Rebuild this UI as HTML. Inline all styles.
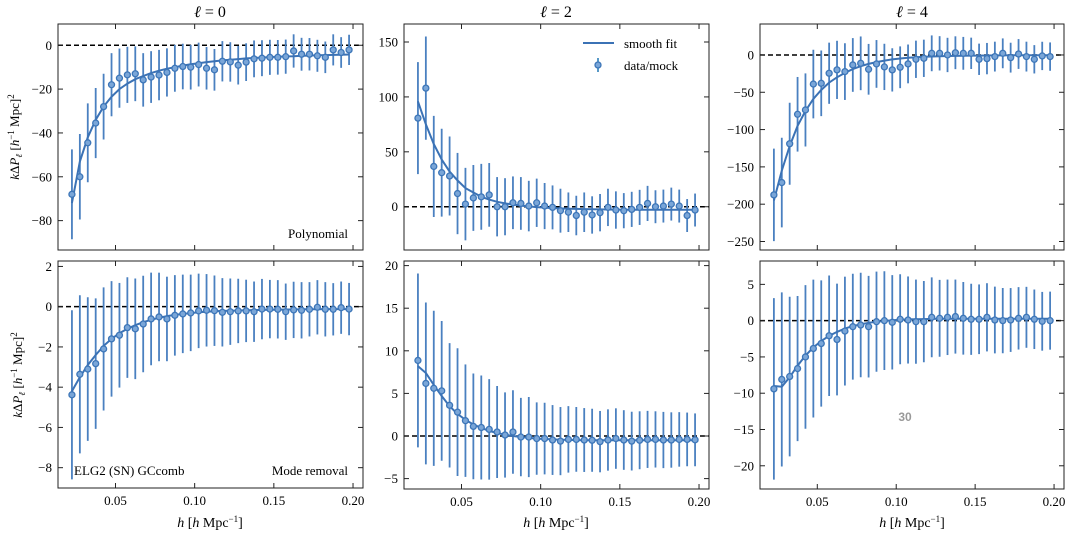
<!DOCTYPE html>
<html><head><meta charset="utf-8">
<style>
html,body{margin:0;padding:0;background:#fff;}
svg{display:block;font-family:"Liberation Serif","DejaVu Serif",serif;}
</style></head>
<body>
<svg id="chart" width="1071" height="535" viewBox="0 0 1071 535" xmlns="http://www.w3.org/2000/svg">
  <text x="210" y="17" font-size="16" text-anchor="middle"><tspan font-style="italic">ℓ</tspan> = 0</text>
  <text x="556" y="17" font-size="16" text-anchor="middle"><tspan font-style="italic">ℓ</tspan> = 2</text>
  <text x="912" y="17" font-size="16" text-anchor="middle"><tspan font-style="italic">ℓ</tspan> = 4</text>
  <text transform="translate(19,137) rotate(-90)" font-size="13" text-anchor="middle"><tspan font-style="italic">k</tspan>Δ<tspan font-style="italic">P</tspan><tspan font-size="9" dy="3" font-style="italic">ℓ</tspan><tspan dy="-3"> [</tspan><tspan font-style="italic">h</tspan><tspan font-size="9" dy="-5">−1</tspan><tspan dy="5"> Mpc]</tspan><tspan font-size="9" dy="-5">2</tspan></text>
  <text transform="translate(22,375) rotate(-90)" font-size="13" text-anchor="middle"><tspan font-style="italic">k</tspan>Δ<tspan font-style="italic">P</tspan><tspan font-size="9" dy="3" font-style="italic">ℓ</tspan><tspan dy="-3"> [</tspan><tspan font-style="italic">h</tspan><tspan font-size="9" dy="-5">−1</tspan><tspan dy="5"> Mpc]</tspan><tspan font-size="9" dy="-5">2</tspan></text>
  <g id="panels"></g>
  <text x="210" y="527" font-size="14" text-anchor="middle"><tspan font-style="italic">h</tspan> [<tspan font-style="italic">h</tspan> Mpc<tspan font-size="9" dy="-5">−1</tspan><tspan dy="5">]</tspan></text>
  <text x="556" y="527" font-size="14" text-anchor="middle"><tspan font-style="italic">h</tspan> [<tspan font-style="italic">h</tspan> Mpc<tspan font-size="9" dy="-5">−1</tspan><tspan dy="5">]</tspan></text>
  <text x="912" y="527" font-size="14" text-anchor="middle"><tspan font-style="italic">h</tspan> [<tspan font-style="italic">h</tspan> Mpc<tspan font-size="9" dy="-5">−1</tspan><tspan dy="5">]</tspan></text>
  <text x="348" y="238" font-size="13" text-anchor="end">Polynomial</text>
  <text x="74" y="475" font-size="13">ELG2 (SN) GCcomb</text>
  <text x="348" y="475" font-size="13" text-anchor="end">Mode removal</text>
  <text x="905" y="421" font-size="12" font-weight="bold" fill="#999" text-anchor="middle" font-family="Liberation Sans, sans-serif">30</text>
  <g>
    <line x1="583" y1="43" x2="614" y2="43" stroke="#3b72b5" stroke-width="2"/>
    <text x="624" y="48" font-size="13">smooth fit</text>
    <line x1="598" y1="58" x2="598" y2="72" stroke="#1f77b4" stroke-width="1.5"/>
    <circle cx="598" cy="65" r="3" fill="#7aa6d8" stroke="#3d76b8" stroke-width="1.3"/>
    <text x="624" y="70" font-size="13">data/mock</text>
  </g>
</svg>
<script>
const kValues = Array.from({length:36},(_,i)=>0.0225+0.005*i);
const xTicks = [0.05,0.10,0.15,0.20];
const xTickLabels = ["0.05","0.10","0.15","0.20"];

const dataL0Poly = [-68,-60,-44.5,-35.5,-28,-18,-15,-13.5,-13,-15.8,-14.5,-13.6,-12.4,-10.5,-9.7,-10,-8.8,-10.5,-11.2,-7.3,-7.6,-9.1,-7.7,-6.2,-5.9,-5.5,-5.5,-5.2,-2.6,-4.1,-4.1,-4.8,-5.5,-2.1,-3.3,-2.1];
const errL0Poly = [20.5,19.5,18,16,15,14.4,13.5,12.8,12.5,12.2,11.8,11.5,11,10.7,10.4,10.2,10,9.7,9.5,9.2,9,8.8,8.6,8.4,8.2,8,7.9,7.8,7.6,7.5,7.4,7.3,7.2,7.1,7,6.9];
const fitL0Poly = [-72,-53,-42,-34,-28,-23.5,-20,-17.5,-15.5,-14,-12.7,-11.6,-10.7,-10,-9.3,-8.7,-8.2,-7.7,-7.3,-6.9,-6.6,-6.3,-6,-5.8,-5.6,-5.4,-5.2,-5.1,-5,-4.8,-4.7,-4.6,-4.5,-4.4,-4.3,-4.2];

const dataL2Poly = [80.7,108,36.7,31,28,12,2.4,8,9,10.8,0,0,3.6,3,0.6,3.6,0.6,-0.6,-3.6,-5,-8,-5,-7.5,-5.4,-0.6,-3,-3.6,-2.4,-0.6,3,0,0.6,2.4,0.6,-8,-3];
const errL2Poly = [51,47,46,40,36,37,33,30,30,29,27,26,24,24,23,22,21,20,20,18,18,18,17,17,17,17,16,16,16,16,15,15,15,15,15,15];
const fitL2Poly = [96,75,57,43,32,24,17,13,9,6.5,4.5,3,2,1,0.3,-0.3,-0.8,-1.2,-1.5,-1.8,-2,-2.2,-2.3,-2.4,-2.5,-2.6,-2.6,-2.7,-2.7,-2.8,-2.8,-2.8,-2.8,-2.8,-2.8,-2.8];

const dataL4Poly = [-187.5,-171,-119,-79.5,-73.7,-39,-38,-24.5,-20,-22.3,-13.4,-11.2,-19.2,-12,-16,-20,-16.5,-12,-5.8,-4.5,2.2,2.2,0,3,2.2,2.2,-5.8,-4.9,-2.2,2.2,-3.6,1.3,-2.2,-5.8,-1.3,-2.2];
const errL4Poly = [62,60,55,50,49,46,44,41,39,38,36,36,34,32,31,29,28,26,25,25,24,23,23,22,22,21,21,21,20,20,20,20,20,19,19,19];
const fitL4Poly = [-195,-155,-122,-95,-75,-59,-47,-37,-30,-24,-19,-15,-12,-9.5,-7.5,-6,-4.8,-3.8,-3,-2.4,-2,-1.7,-1.4,-1.2,-1,-0.9,-0.8,-0.7,-0.6,-0.6,-0.5,-0.5,-0.5,-0.5,-0.5,-0.5];

const dataL0Mode = [-4.38,-3.36,-3.1,-2.83,-2.1,-1.6,-1.42,-1.04,-1.1,-0.86,-0.61,-0.51,-0.61,-0.43,-0.36,-0.31,-0.21,-0.18,-0.2,-0.28,-0.25,-0.21,-0.21,-0.25,-0.12,-0.12,-0.13,-0.25,-0.16,-0.18,-0.13,-0.03,-0.13,-0.13,-0.05,-0.12];
const errL0Mode = [4.2,3.93,3.57,3.24,3.06,2.87,2.6,2.5,2.5,2.4,2.3,2.2,2.1,2.0,1.95,1.9,1.85,1.8,1.75,1.7,1.65,1.6,1.55,1.5,1.5,1.45,1.45,1.4,1.4,1.4,1.35,1.35,1.35,1.3,1.3,1.3];
const fitL0Mode = [-4.2,-3.5,-2.9,-2.4,-1.95,-1.6,-1.32,-1.1,-0.92,-0.77,-0.65,-0.55,-0.47,-0.41,-0.36,-0.32,-0.28,-0.25,-0.23,-0.21,-0.2,-0.19,-0.18,-0.17,-0.16,-0.15,-0.15,-0.14,-0.14,-0.13,-0.13,-0.13,-0.12,-0.12,-0.12,-0.12];

const dataL2Mode = [8.87,6.17,5.6,5.3,3.6,2.8,1.8,1.13,1,0.78,0.47,0.12,0.47,-0.12,-0.12,-0.3,-0.3,-0.47,-0.6,-0.4,-0.4,-0.47,-0.5,-0.66,-0.47,-0.3,-0.47,-0.6,-0.5,-0.4,-0.4,-0.47,-0.47,-0.4,-0.4,-0.45];
const errL2Mode = [10.2,9.5,9.1,8.2,7.3,7.5,6.6,6.2,6.1,5.9,5.4,5.0,4.9,4.6,4.7,4.25,4.2,4.1,4.0,3.9,3.8,3.75,3.7,3.6,3.6,3.55,3.5,3.45,3.4,3.35,3.3,3.3,3.25,3.2,3.15,3.1];
const fitL2Mode = [8.2,7.4,6.0,4.7,3.5,2.6,1.9,1.35,0.95,0.6,0.35,0.15,0,-0.12,-0.22,-0.3,-0.35,-0.4,-0.43,-0.46,-0.48,-0.5,-0.5,-0.5,-0.5,-0.5,-0.5,-0.5,-0.5,-0.5,-0.5,-0.5,-0.5,-0.5,-0.5,-0.5];

const dataL4Mode = [-9.4,-8.1,-7.7,-6.6,-5,-3.84,-3.15,-2.08,-2.6,-1.44,-0.83,-0.6,-0.83,-0.14,0,-0.23,0.19,0.09,-0.14,-0.14,0.46,0.32,0.46,0.56,0.32,0.19,0.19,0.46,0.09,0,0.09,0.32,0.46,0.19,-0.09,0];
const errL4Mode = [12.5,12,11,10,9.9,9.5,8.7,8.3,7.7,7.5,7.3,7.2,7,6.9,6.8,6.5,6.2,6,5.8,5.6,5.5,5.3,5.2,5.1,5,4.9,4.8,4.7,4.6,4.5,4.4,4.3,4.2,4.1,4.05,4];
const fitL4Mode = [-9,-9.1,-7.8,-6.2,-4.8,-3.7,-2.8,-2.1,-1.55,-1.1,-0.75,-0.5,-0.3,-0.15,-0.05,0.05,0.12,0.17,0.2,0.22,0.24,0.25,0.25,0.25,0.25,0.25,0.25,0.25,0.25,0.25,0.25,0.25,0.25,0.25,0.25,0.25];

const yTicksL0Poly = [0,-20,-40,-60,-80];
const yTicksL2Poly = [0,50,100,150];
const yTicksL4Poly = [0,-50,-100,-150,-200,-250];
const yTicksL0Mode = [2,0,-2,-4,-6,-8];
const yTicksL2Mode = [-5,0,5,10,15,20];
const yTicksL4Mode = [5,0,-5,-10,-15,-20];

const NS = "http://www.w3.org/2000/svg";
const XMIN = 0.0137, XMAX = 0.2063;
const panels = [
  {name:"l0-polynomial", x0:58, x1:363, y0:24, y1:250, ymin:-93.4, ymax:9.7, d:dataL0Poly, e:errL0Poly, f:fitL0Poly, t:yTicksL0Poly, xl:false},
  {name:"l2-polynomial", x0:404, x1:709, y0:24, y1:250, ymin:-39.4, ymax:166.4, d:dataL2Poly, e:errL2Poly, f:fitL2Poly, t:yTicksL2Poly, xl:false},
  {name:"l4-polynomial", x0:760, x1:1064, y0:24, y1:250, ymin:-261.4, ymax:41.5, d:dataL4Poly, e:errL4Poly, f:fitL4Poly, t:yTicksL4Poly, xl:false},
  {name:"l0-mode-removal", x0:58, x1:363, y0:261, y1:488, ymin:-9.01, ymax:2.27, d:dataL0Mode, e:errL0Mode, f:fitL0Mode, t:yTicksL0Mode, xl:true},
  {name:"l2-mode-removal", x0:404, x1:709, y0:261, y1:489, ymin:-6.22, ymax:20.54, d:dataL2Mode, e:errL2Mode, f:fitL2Mode, t:yTicksL2Mode, xl:true},
  {name:"l4-mode-removal", x0:760, x1:1064, y0:261, y1:489, ymin:-23.2, ymax:8.22, d:dataL4Mode, e:errL4Mode, f:fitL4Mode, t:yTicksL4Mode, xl:true}
];
function mk(tag, attrs, parent){
  const el = document.createElementNS(NS, tag);
  for (const k in attrs) el.setAttribute(k, attrs[k]);
  parent.appendChild(el);
  return el;
}
const root = document.getElementById("panels");
panels.forEach(p=>{
  const sx = v => p.x0 + (v-XMIN)/(XMAX-XMIN)*(p.x1-p.x0);
  const sy = v => p.y1 - (v-p.ymin)/(p.ymax-p.ymin)*(p.y1-p.y0);
  const g = mk("g", {}, root);
  
  
  // zero line
  const z = mk("line", {x1:p.x0, x2:p.x1, y1:sy(0), y2:sy(0), stroke:"#000", "stroke-width":1.5, "stroke-dasharray":"5,3"}, g);
  
  
  // error bars
  p.d.forEach((v,i)=>{
    const eb = mk("line", {x1:sx(kValues[i]), x2:sx(kValues[i]), y1:sy(v-p.e[i]), y2:sy(v+p.e[i]), stroke:"#4a80c0", "stroke-width":1.8}, g);
    
    
  });
  // fit line
  const pts = p.f.map((v,i)=>sx(kValues[i]).toFixed(1)+","+sy(v).toFixed(1)).join(" ");
  const fl = mk("polyline", {points:pts, fill:"none", stroke:"#3b72b5", "stroke-width":2}, g);
  
  
  // markers
  p.d.forEach((v,i)=>{
    const c = mk("circle", {cx:sx(kValues[i]), cy:sy(v), r:3, fill:"#7aa6d8", stroke:"#3d76b8", "stroke-width":1.3}, g);
    
    
  });
  // frame
  const fr = mk("rect", {x:p.x0, y:p.y0, width:p.x1-p.x0, height:p.y1-p.y0, fill:"none", stroke:"#222", "stroke-width":1}, g);
  
  
  // y ticks
  p.t.forEach(t=>{
    const y = sy(t);
    mk("line", {x1:p.x0, x2:p.x0+5, y1:y, y2:y, stroke:"#222"}, g);
    mk("line", {x1:p.x1-5, x2:p.x1, y1:y, y2:y, stroke:"#222"}, g);
    const tx = mk("text", {x:p.x0-6, y:y+4.5, "font-size":13, "text-anchor":"end"}, g);
    tx.textContent = (t<0?"−":"") + Math.abs(t);
    
    
  });
  // x ticks
  xTicks.forEach((t,i)=>{
    const x = sx(t);
    mk("line", {x1:x, x2:x, y1:p.y1-5, y2:p.y1, stroke:"#222"}, g);
    mk("line", {x1:x, x2:x, y1:p.y0, y2:p.y0+5, stroke:"#222"}, g);
    if (p.xl){
      const tx = mk("text", {x:x, y:p.y1+17, "font-size":13, "text-anchor":"middle"}, g);
      tx.textContent = xTickLabels[i];
      
      
    }
  });
});
</script>
</body></html>
